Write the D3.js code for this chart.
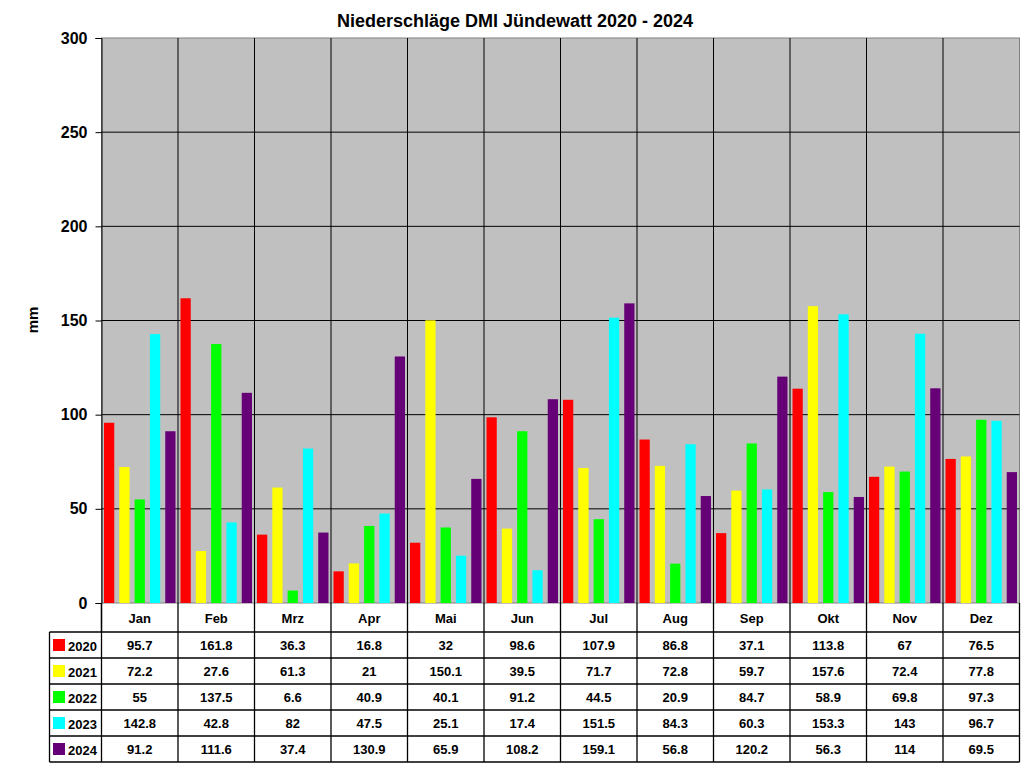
<!DOCTYPE html>
<html>
<head>
<meta charset="utf-8">
<script src="https://cdn.jsdelivr.net/npm/d3@7"></script>
<style>
  body { margin:0; background:#fff; }
  svg text { font-family: Arial, "Liberation Sans", sans-serif; font-weight:bold; fill:#000; }
</style>
</head>
<body>
<svg id="chart" width="1024" height="768"></svg>
<script>
// Daten
const months = ['Jan','Feb','Mrz','Apr','Mai','Jun','Jul','Aug','Sep','Okt','Nov','Dez'];
const years  = ['2020','2021','2022','2023','2024'];
const colors = ['#ff0000','#ffff00','#00ff00','#00ffff','#660077'];
const v2020 = [95.7,161.8,36.3,16.8,32,98.6,107.9,86.8,37.1,113.8,67,76.5];
const v2021 = [72.2,27.6,61.3,21,150.1,39.5,71.7,72.8,59.7,157.6,72.4,77.8];
const v2022 = [55,137.5,6.6,40.9,40.1,91.2,44.5,20.9,84.7,58.9,69.8,97.3];
const v2023 = [142.8,42.8,82,47.5,25.1,17.4,151.5,84.3,60.3,153.3,143,96.7];
const v2024 = [91.2,111.6,37.4,130.9,65.9,108.2,159.1,56.8,120.2,56.3,114,69.5];
const yTicks = [0,50,100,150,200,250,300];

const series = [v2020,v2021,v2022,v2023,v2024];

const svg = d3.select('#chart');
const L = 101.5, R = 1019.5, T = 38, B = 603;

const x = d3.scaleBand().domain(months).range([L,R]);
const xi = d3.scaleBand().domain(years).range([2.5, x.bandwidth()-2.5]).paddingInner(0.33);
const y = d3.scaleLinear().domain([0,300]).range([B,T]);

// Titel
svg.append('text').attr('x',515).attr('y',27).attr('text-anchor','middle')
  .style('font-size','18px').text('Niederschläge DMI Jündewatt 2020 - 2024');

// Plotbereich
svg.append('rect').attr('x',L).attr('y',T).attr('width',R-L).attr('height',B-T)
  .attr('fill','#c0c0c0').attr('stroke','#808080');

// Gitter horizontal
svg.append('g').selectAll('line').data(yTicks.slice(1,-1)).enter().append('line')
  .attr('x1',L).attr('x2',R).attr('y1',d=>y(d)).attr('y2',d=>y(d))
  .attr('stroke','#000').attr('stroke-width',1);

// Gitter vertikal
svg.append('g').selectAll('line').data(months.slice(1)).enter().append('line')
  .attr('x1',d=>x(d)).attr('x2',d=>x(d)).attr('y1',T).attr('y2',B)
  .attr('stroke','#000').attr('stroke-width',1);

// Balken
series.forEach((vals,si)=>{
  svg.append('g').selectAll('rect').data(vals).enter().append('rect')
    .attr('x',(d,i)=>x(months[i]) + xi(years[si]))
    .attr('y',d=>y(d))
    .attr('width',xi.bandwidth())
    .attr('height',d=>B - y(d))
    .attr('fill',colors[si]);
});

// Y-Achse
const ya = svg.append('g').attr('transform',`translate(${L},0)`)
  .call(d3.axisLeft(y).tickValues(yTicks).tickSize(6).tickPadding(8));
ya.select('.domain').attr('stroke','#000');
ya.selectAll('line').attr('stroke','#000');
ya.selectAll('text').style('font-size','16px').attr('font-family',null).attr('fill','#000');

svg.append('text').attr('transform','translate(38,320) rotate(-90)')
  .attr('text-anchor','middle').style('font-size','15px').text('mm');

// Datentabelle
const rowH = [603,632,658,684,710,736,762];
const tbl = svg.append('g');
// Monatskopf
tbl.selectAll('text.m').data(months).enter().append('text')
  .attr('x',d=>x(d)+x.bandwidth()/2).attr('y',(rowH[0]+rowH[1])/2+5)
  .attr('text-anchor','middle').style('font-size','13px').text(d=>d);

series.forEach((vals,si)=>{
  const yc = (rowH[si+1]+rowH[si+2])/2 + 5;
  tbl.append('g').selectAll('text').data(vals).enter().append('text')
    .attr('x',(d,i)=>x(months[i])+x.bandwidth()/2).attr('y',yc)
    .attr('text-anchor','middle').style('font-size','13px').text(d=>d);
  tbl.append('rect').attr('x',53).attr('y',yc-11).attr('width',12).attr('height',12)
    .attr('fill',colors[si]);
  tbl.append('text').attr('x',68).attr('y',yc+1).style('font-size','13px').text(years[si]);
});

// Tabellenlinien
const lines = [];
lines.push([L,rowH[1],L,rowH[0]]);
months.forEach(m=>lines.push([x(m)+x.bandwidth(),rowH[0],x(m)+x.bandwidth(),rowH[6]]));
lines.push([L,B,L,rowH[6]]);
lines.push([49.5,rowH[1],49.5,rowH[6]]);
rowH.slice(1).forEach(h=>lines.push([49.5,h,R,h]));
tbl.selectAll('line').data(lines).enter().append('line')
  .attr('x1',d=>d[0]).attr('y1',d=>d[1]).attr('x2',d=>d[2]).attr('y2',d=>d[3])
  .attr('stroke','#000').attr('stroke-width',1.3);
</script>
</body>
</html>
